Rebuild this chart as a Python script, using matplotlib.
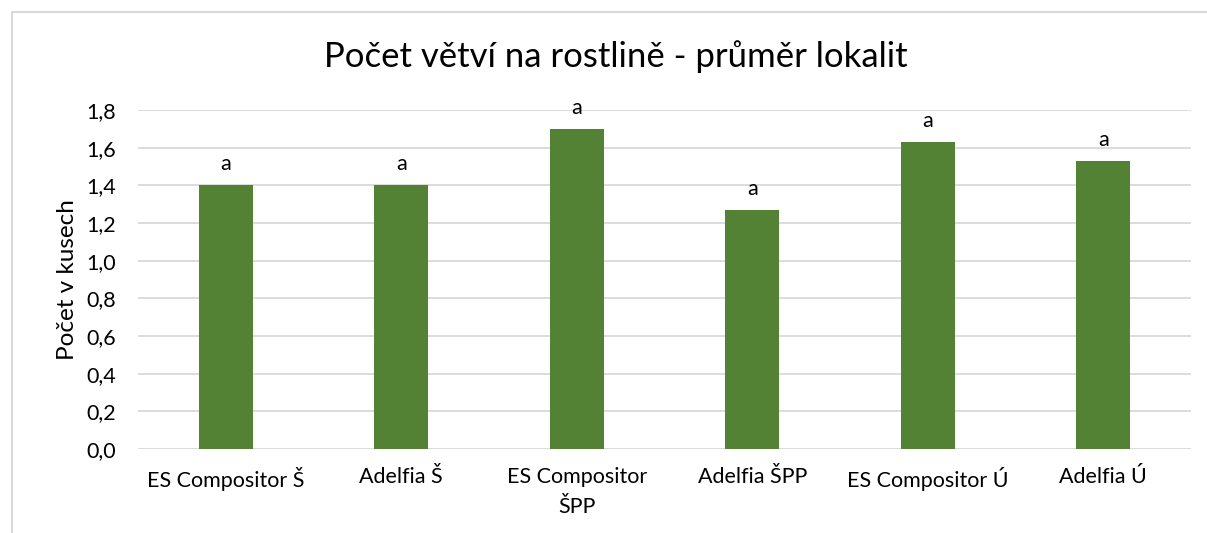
import matplotlib.pyplot as plt
from matplotlib.lines import Line2D

categories = ['ES Compositor Š', 'Adelfia Š', 'ES Compositor\nŠPP', 'Adelfia ŠPP', 'ES Compositor Ú', 'Adelfia Ú']
values = [1.40, 1.40, 1.70, 1.27, 1.63, 1.53]
letters = ['a', 'a', 'a', 'a', 'a', 'a']
yticks = [0.0, 0.2, 0.4, 0.6, 0.8, 1.0, 1.2, 1.4, 1.6, 1.8]

plt.rcParams['font.family'] = ['Lato', 'DejaVu Sans']

fig = plt.figure(figsize=(12.07, 5.33), dpi=100)
ax = fig.add_axes([138/1207, 1-449/533, (1191-138)/1207, (449-110)/533])

x = range(len(categories))
ax.bar(x, values, width=0.31, color='#548235', zorder=3)
for i, v in enumerate(values):
    ax.text(i, v + 0.06, letters[i], ha='center', va='bottom', fontsize=15.5, color='#000000')

ax.set_xlim(-0.5, len(categories) - 0.5)
ax.set_ylim(0, 1.8)
ax.set_yticks(yticks)
ax.set_yticklabels([f'{t:.1f}'.replace('.', ',') for t in yticks], fontsize=15.5)
ax.set_xticks(list(x))
ax.set_xticklabels(categories, fontsize=15.5, va='top', linespacing=1.65)
ax.tick_params(axis='x', length=0, pad=13)
ax.tick_params(axis='y', length=0, pad=16)
ax.grid(axis='y', color='#d9d9d9', linewidth=1.3, zorder=0)
for s in ax.spines.values():
    s.set_visible(False)
ax.set_ylabel('Počet v kusech', fontsize=17.5, labelpad=6)

fig.text(616/1207, 1-57/533, 'Počet větví na rostlině - průměr lokalit', ha='center', va='center', fontsize=25)

# outer chart frame (partly cropped in the reference)
fig.add_artist(Line2D([12/1207, 12/1207], [0, 1-12/533], color='#d9d9d9', lw=1.5, transform=fig.transFigure))
fig.add_artist(Line2D([12/1207, 1], [1-12/533, 1-12/533], color='#d9d9d9', lw=1.5, transform=fig.transFigure))

fig.savefig('out.png', dpi=100)
